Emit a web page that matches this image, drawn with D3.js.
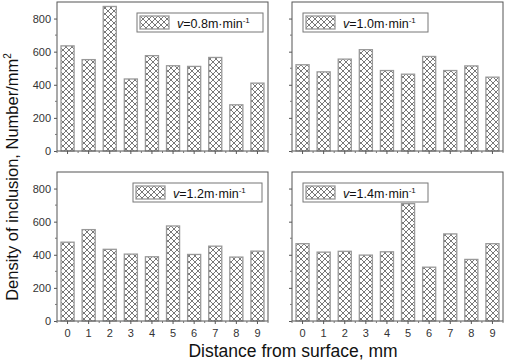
<!DOCTYPE html>
<html>
<head>
<meta charset="utf-8">
<script src="https://cdn.jsdelivr.net/npm/d3@7"></script>
<style>
body { margin: 0; background: #fff; }
text { font-family: "Liberation Sans", Arial, sans-serif; }
</style>
</head>
<body>
<script>
// distances from surface (mm)
var distances = [0, 1, 2, 3, 4, 5, 6, 7, 8, 9]
var yTicks = [0, 200, 400, 600, 800]

// density of inclusion per casting speed
var speeds = ["0.8", "1.0", "1.2", "1.4"]
var density08 = [635, 552, 873, 435, 576, 515, 511, 565, 279, 410]
var density10 = [521, 478, 555, 612, 486, 464, 571, 486, 514, 446]
var density12 = [476, 552, 433, 404, 388, 574, 402, 452, 386, 422]
var density14 = [467, 416, 421, 398, 418, 709, 325, 526, 372, 467]
var allDensity = [density08, density10, density12, density14]

var W = 505, H = 361

// panel layout: left, top, width, height, legend x
var panels = [
  {x: 57, y: 2, w: 211, h: 149, lx: 137, lw: 126, showY: true, showX: false},
  {x: 292, y: 2, w: 211, h: 149, lx: 303, lw: 125, showY: false, showX: false},
  {x: 57, y: 172, w: 211, h: 149, lx: 133, lw: 129, showY: true, showX: true},
  {x: 292, y: 172, w: 211, h: 149, lx: 303, lw: 125, showY: false, showX: true}
]

var svg = d3.select("body").append("svg")
  .attr("width", W)
  .attr("height", H)

var defs = svg.append("defs")
var pat = defs.append("pattern")
  .attr("id", "hatch")
  .attr("patternUnits", "userSpaceOnUse")
  .attr("width", 6)
  .attr("height", 6)
pat.append("rect").attr("width", 6).attr("height", 6).attr("fill", "#fff")
pat.append("path")
  .attr("d", "M0,0L6,6M6,0L0,6M-1,5L1,7M5,-1L7,1M-1,1L1,-1M5,7L7,5")
  .attr("stroke", "#555")
  .attr("stroke-width", 0.8)
  .attr("fill", "none")

panels.forEach(function(p, i) {
  var data = allDensity[i]

  var x = d3.scaleBand()
    .domain(distances)
    .range([0, p.w])
    .paddingInner(0.38)
    .paddingOuter(0.19)

  var y = d3.scaleLinear()
    .domain([0, 900])
    .range([p.h, 0])

  var g = svg.append("g")
    .attr("transform", "translate(" + p.x + "," + p.y + ")")

  // bars
  g.selectAll("rect.bar")
    .data(data)
    .enter().append("rect")
    .attr("class", "bar")
    .attr("x", function(d, j) { return x(distances[j]) })
    .attr("y", function(d) { return y(d) })
    .attr("width", x.bandwidth())
    .attr("height", function(d) { return p.h - y(d) })
    .attr("fill", "url(#hatch)")
    .attr("stroke", "#999")
    .attr("stroke-width", 1.3)

  // frame
  g.append("rect")
    .attr("width", p.w)
    .attr("height", p.h)
    .attr("fill", "none")
    .attr("stroke", "#555")
    .attr("stroke-width", 1)

  // y axis
  var yAxis = d3.axisLeft(y)
    .tickValues(yTicks)
    .tickSize(3)
    .tickFormat(p.showY ? d3.format("d") : "")
  var ya = g.append("g").call(yAxis)
  ya.select(".domain").remove()
  ya.selectAll("line").attr("stroke", "#555")
  ya.selectAll("text").attr("font-size", 11).attr("fill", "#333")
  g.selectAll("line.yminor")
    .data([100, 300, 500, 700])
    .enter().append("line")
    .attr("class", "yminor")
    .attr("x1", -2).attr("x2", 0)
    .attr("y1", function(d) { return y(d) })
    .attr("y2", function(d) { return y(d) })
    .attr("stroke", "#777")

  // x axis
  var xAxis = d3.axisBottom(x)
    .tickSize(3)
    .tickFormat(p.showX ? function(d) { return d } : "")
  var xa = g.append("g")
    .attr("transform", "translate(0," + p.h + ")")
    .call(xAxis)
  xa.select(".domain").remove()
  xa.selectAll("line").attr("stroke", "#555")
  xa.selectAll("text").attr("font-size", 11).attr("fill", "#333").attr("dy", "0.9em")
  g.selectAll("line.xminor")
    .data(d3.range(0, 11))
    .enter().append("line")
    .attr("class", "xminor")
    .attr("x1", function(d) { return d * x.step() })
    .attr("x2", function(d) { return d * x.step() })
    .attr("y1", p.h).attr("y2", p.h + 2)
    .attr("stroke", "#777")

  // legend
  var lg = g.append("g")
    .attr("transform", "translate(" + (p.lx - p.x) + ",11)")
  lg.append("rect")
    .attr("width", p.lw)
    .attr("height", 19)
    .attr("fill", "#fff")
    .attr("stroke", "#777")
  lg.append("rect")
    .attr("x", 3).attr("y", 3)
    .attr("width", 29).attr("height", 13)
    .attr("fill", "url(#hatch)")
    .attr("stroke", "#999")
    .attr("stroke-width", 1.3)
  var t = lg.append("text")
    .attr("x", 40)
    .attr("y", 14.5)
    .attr("font-size", 12.5)
    .attr("fill", "#111")
  t.append("tspan").attr("font-style", "italic").text("v")
  t.append("tspan").text("=" + speeds[i] + "m\u00b7min")
  t.append("tspan").attr("font-size", 8).attr("dy", -5).text("-1")
})

// axis titles
var yt = svg.append("text")
  .attr("transform", "translate(18,177) rotate(-90)")
  .attr("text-anchor", "middle")
  .attr("font-size", 16.5)
  .attr("fill", "#111")
yt.append("tspan").text("Density of inclusion, Number/mm")
yt.append("tspan").attr("font-size", 10).attr("dy", -7).text("2")

svg.append("text")
  .attr("x", 293)
  .attr("y", 357)
  .attr("text-anchor", "middle")
  .attr("font-size", 17.5)
  .attr("fill", "#111")
  .text("Distance from surface, mm")
</script>
</body>
</html>
